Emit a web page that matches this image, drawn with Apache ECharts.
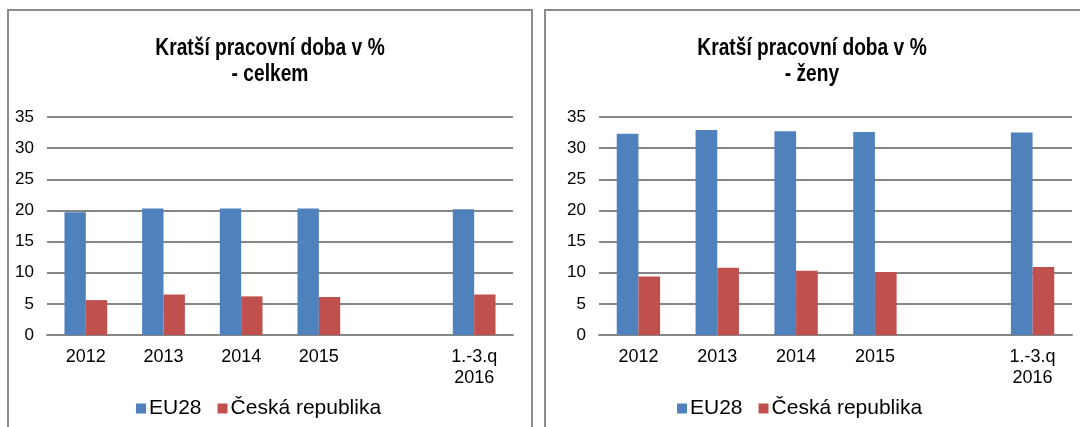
<!DOCTYPE html>
<html>
<head>
<meta charset="utf-8">
<script src="https://cdn.jsdelivr.net/npm/echarts@6/dist/echarts.min.js"></script>
<style>
html,body{margin:0;padding:0;background:#fff;}
#c{width:1080px;height:427px;}
</style>
</head>
<body>
<div id="c"></div>
<script>
const categories = ['2012', '2013', '2014', '2015', '', '1.-3.q\n2016'];
const seriesNames = ['EU28', 'Česká republika'];
const totalEU = [19.7, 20.3, 20.3, 20.3, null, 20.2];
const totalCZ = [5.6, 6.5, 6.2, 6.1, null, 6.5];
const womenEU = [32.3, 32.9, 32.7, 32.6, null, 32.5];
const womenCZ = [9.4, 10.8, 10.3, 10.1, null, 10.9];
const yTicks = [0, 5, 10, 15, 20, 25, 30, 35];
const titles = ['Kratší pracovní doba v %\n- celkem', 'Kratší pracovní doba v %\n- ženy'];

const BLUE = '#4F81BD', RED = '#C0504D', GRID = '#868686';
const FONT = '"Liberation Sans", Arial, sans-serif';

const chart = echarts.init(document.getElementById('c'), null, {renderer: 'canvas'});

function xAxis(i) {
  return {
    type: 'category', gridIndex: i, data: categories,
    axisLine: {show: true, lineStyle: {color: GRID, width: 2}},
    axisTick: {show: false},
    axisLabel: {color: '#000', fontFamily: FONT, fontSize: 18, lineHeight: 21, margin: 12, interval: 0}
  };
}
function yAxis(i) {
  return {
    type: 'value', gridIndex: i, min: yTicks[0], max: yTicks[yTicks.length - 1], interval: 5,
    axisLine: {show: false}, axisTick: {show: false},
    splitLine: {show: true, lineStyle: {color: GRID, width: 2}},
    axisLabel: {color: '#000', fontFamily: FONT, fontSize: 17, margin: 13}
  };
}
function bar(name, data, color, i) {
  return {
    type: 'bar', name: name, data: data, xAxisIndex: i, yAxisIndex: i,
    barGap: '0%', barCategoryGap: '45%',
    itemStyle: {color: color}, animation: false
  };
}
function titleText(text, cx) {
  return {
    type: 'text', x: cx, y: 35, scaleX: 0.8, silent: true,
    style: {text: text, fill: '#000', font: 'bold 24px "Liberation Sans", Arial, sans-serif',
            lineHeight: 26, textAlign: 'center', textVerticalAlign: 'top'}
  };
}

chart.setOption({
  animation: false,
  legend: [
    {left: 131, top: 393, itemWidth: 10, itemHeight: 10, itemGap: 16, icon: 'rect', data: seriesNames,
     textStyle: {fontFamily: FONT, fontSize: 21, color: '#000', padding: [0, 0, 0, -2]}},
    {left: 672, top: 393, itemWidth: 10, itemHeight: 10, itemGap: 16, icon: 'rect', data: seriesNames,
     textStyle: {fontFamily: FONT, fontSize: 21, color: '#000', padding: [0, 0, 0, -2]}}
  ],
  grid: [
    {left: 47, width: 466, top: 117, height: 218},
    {left: 599, width: 473, top: 117, height: 218}
  ],
  xAxis: [xAxis(0), xAxis(1)],
  yAxis: [yAxis(0), yAxis(1)],
  series: [
    bar(seriesNames[0], totalEU, BLUE, 0),
    bar(seriesNames[1], totalCZ, RED, 0),
    bar(seriesNames[0], womenEU, BLUE, 1),
    bar(seriesNames[1], womenCZ, RED, 1)
  ],
  graphic: [
    {type: 'rect', shape: {x: 8, y: 10, width: 524, height: 500}, style: {fill: 'none', stroke: '#8a8a8a', lineWidth: 2}, silent: true},
    {type: 'rect', shape: {x: 545, y: 10, width: 600, height: 500}, style: {fill: 'none', stroke: '#8a8a8a', lineWidth: 2}, silent: true},
    titleText(titles[0], 270),
    titleText(titles[1], 812)
  ]
});
</script>
</body>
</html>
